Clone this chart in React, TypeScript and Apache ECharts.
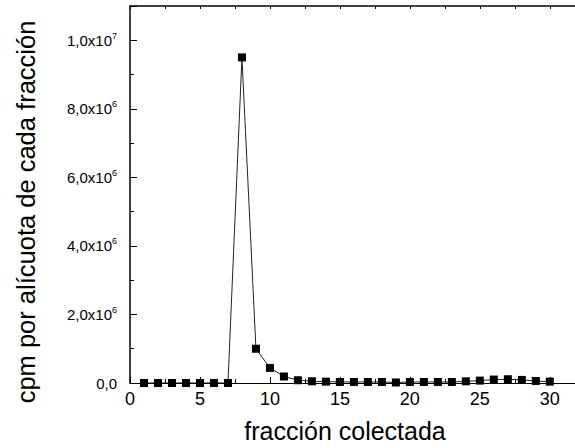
import React, { useEffect, useRef } from "react";
import * as echarts from "echarts";

const fractions = [1, 2, 3, 4, 5, 6, 7, 8, 9, 10, 11, 12, 13, 14, 15, 16, 17, 18, 19, 20, 21, 22, 23, 24, 25, 26, 27, 28, 29, 30];
const cpm = [0, 0, 0, 0, 0, 0, 0, 9.5e6, 1.0e6, 4.4e5, 1.9e5, 8e4, 5e4, 4e4, 3e4, 3e4, 3e4, 3e4, 1.5e4, 3e4, 3e4, 3e4, 3e4, 5e4, 7e4, 1.0e5, 1.1e5, 9e4, 6e4, 4e4];
const xTitle = "fracción colectada";
const yTitle = "cpm por alícuota de cada fracción";
const yLabels: Record<number, string> = {
  0: "{b|0,0}",
  2000000: "{b|2,0x10}{s|6}",
  4000000: "{b|4,0x10}{s|6}",
  6000000: "{b|6,0x10}{s|6}",
  8000000: "{b|8,0x10}{s|6}",
  10000000: "{b|1,0x10}{s|7}",
};

const FONT = "'Liberation Sans', Arial, sans-serif";

export default function App() {
  const ref = useRef<HTMLDivElement>(null);
  useEffect(() => {
    const chart = echarts.init(ref.current!, null, { renderer: "svg" });
    const data = fractions.map((f, i) => [f, cpm[i]]);
    chart.setOption({
      animation: false,
      backgroundColor: "#fff",
      grid: { left: 130, right: 0, top: 6, bottom: 65, containLabel: false },
      graphic: [
        {
          type: "text",
          x: 345,
          y: 431,
          style: {
            text: xTitle,
            fontFamily: FONT,
            fontSize: 25,
            fill: "#000",
            align: "center",
            verticalAlign: "middle",
          },
        },
        {
          type: "text",
          x: 26,
          y: 212,
          rotation: Math.PI / 2,
          style: {
            text: yTitle,
            fontFamily: FONT,
            fontSize: 25.5,
            fill: "#000",
            align: "center",
            verticalAlign: "middle",
          },
        },
      ],
      xAxis: [
        {
          type: "value",
          min: 0,
          max: 31.8,
          interval: 5,
          position: "bottom",
          axisLine: { show: true, onZero: false, lineStyle: { color: "#000", width: 1 } },
          axisTick: { show: true, inside: true, length: 6, lineStyle: { color: "#000" } },
          minorTick: { show: true, splitNumber: 2, length: 4, lineStyle: { color: "#000" } },
          axisLabel: {
            fontFamily: FONT,
            fontSize: 18,
            color: "#000",
            margin: 7,
            showMaxLabel: false,
            formatter: (v: number) => (v % 5 === 0 && v <= 30 ? String(v) : ""),
          },
          splitLine: { show: false },
        },
        {
          type: "value",
          min: 0,
          max: 31.8,
          interval: 2.5,
          position: "top",
          axisLine: { show: true, onZero: false, lineStyle: { color: "#000", width: 1.5 } },
          axisTick: { show: true, inside: true, length: 3, lineStyle: { color: "#000" } },
          axisLabel: { show: false },
          splitLine: { show: false },
        },
      ],
      yAxis: [
        {
          type: "value",
          min: 0,
          max: 1.1e7,
          interval: 2e6,
          position: "left",
          axisLine: { show: true, onZero: false, lineStyle: { color: "#000", width: 1.5 } },
          axisTick: { show: true, inside: true, length: 7, lineStyle: { color: "#000" } },
          axisLabel: {
            color: "#000",
            margin: 13,
            formatter: (v: number) => yLabels[v] ?? "",
            rich: {
              b: { fontFamily: FONT, fontSize: 15, color: "#000" },
              s: { fontFamily: FONT, fontSize: 9, color: "#000", verticalAlign: "top", padding: [0, 0, 9, 0] },
            },
          },
          splitLine: { show: false },
        },
        {
          type: "value",
          min: 0,
          max: 1.1e7,
          interval: 1e6,
          position: "left",
          axisLine: { show: false },
          axisTick: { show: true, inside: true, length: 4, lineStyle: { color: "#000" } },
          axisLabel: { show: false },
          splitLine: { show: false },
        },
      ],
      series: [
        {
          type: "line",
          data,
          xAxisIndex: 0,
          yAxisIndex: 0,
          symbol: "rect",
          symbolSize: 8,
          showAllSymbol: true,
          lineStyle: { color: "#222", width: 1 },
          itemStyle: { color: "#000" },
          z: 5,
        },
      ],
    });
    return () => chart.dispose();
  }, []);
  return (
    <div
      ref={ref}
      style={{ position: "fixed", left: 0, top: 0, width: 575, height: 448 }}
    />
  );
}
